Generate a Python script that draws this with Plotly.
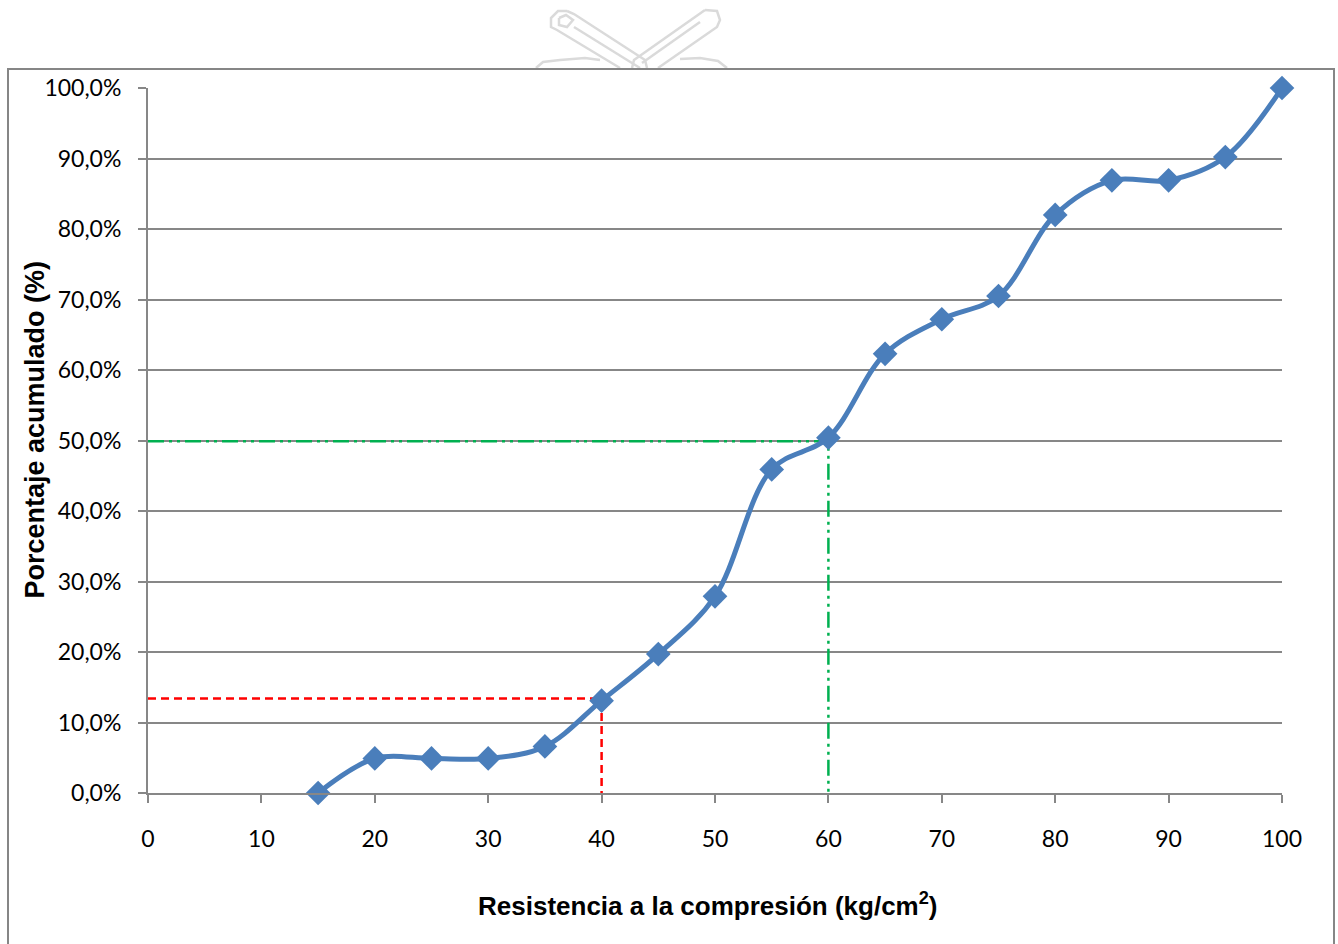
import plotly.graph_objects as go

# Cumulative distribution of compressive strength
resistencia = [15, 20, 25, 30, 35, 40, 45, 50, 55, 60, 65, 70, 75, 80, 85, 90, 95, 100]
porcentaje = [0.0, 4.9, 4.9, 4.9, 6.6, 13.1, 19.7, 27.9, 45.9, 50.4, 62.3, 67.2, 70.5,
              82.0, 86.9, 86.9, 90.2, 100.0]

# Reading guides: value at 40 kg/cm2 and the median (50 %)
guia_roja_x = [0, 40, 40]
guia_roja_y = [13.4, 13.4, 0]
guia_verde_x = [0, 60, 60]
guia_verde_y = [49.9, 49.9, 0]

x_ticks = [0, 10, 20, 30, 40, 50, 60, 70, 80, 90, 100]
y_ticks = [0, 10, 20, 30, 40, 50, 60, 70, 80, 90, 100]
y_ticktext = ["0,0%", "10,0%", "20,0%", "30,0%", "40,0%", "50,0%",
              "60,0%", "70,0%", "80,0%", "90,0%", "100,0%"]

W, H = 1338, 944
ML, MR, MT, MB = 148, 56, 88, 151
GRID = "#878787"
TICK_FONT = dict(family="Lato", size=23, color="#000000")
TITLE_FONT = dict(family="Liberation Sans", size=26, color="#000000")


def px_to_paper(px, py):
    """Convert page pixel coordinates to paper coordinates."""
    return (px - ML) / (W - ML - MR), (H - MB - py) / (H - MT - MB)


def path_from_px(points, closed=False):
    parts = []
    for i, (px, py) in enumerate(points):
        x, y = px_to_paper(px, py)
        parts.append(("M" if i == 0 else "L") + f"{x:.5f},{y:.5f}")
    return " ".join(parts) + (" Z" if closed else "")


# Faint page emblem above the chart frame (two crossed scrolls)
emblema = [
    [(567, 11), (558, 11), (551, 18), (551, 27), (557, 30), (620, 68)],
    [(647, 68), (645, 60), (574, 14), (567, 11)],
    [(559, 18), (566, 15), (573, 20), (567, 27), (559, 25), (559, 18)],
    [(574, 27), (640, 68)],
    [(705, 10), (717, 11), (720, 20), (717, 27), (658, 68)],
    [(632, 68), (634, 60), (705, 10)],
    [(700, 22), (642, 63)],
    [(536, 68), (543, 62), (560, 60), (585, 58), (600, 60)],
    [(680, 59), (700, 58), (718, 61), (727, 68)],
]

shapes = []
for pts in emblema:
    shapes.append(dict(
        type="path", xref="paper", yref="paper",
        path=path_from_px(pts), line=dict(color="#DADADA", width=2.5),
        fillcolor="rgba(0,0,0,0)", layer="below",
    ))

# Chart frame
fx0, fy1 = px_to_paper(8, 69)
fx1, fy0 = px_to_paper(1334, 960)
shapes.append(dict(
    type="rect", xref="paper", yref="paper",
    x0=fx0, x1=fx1, y0=fy0, y1=fy1,
    line=dict(color="#868686", width=2), fillcolor="white", layer="below",
))

fig = go.Figure()

fig.add_trace(go.Scatter(
    x=guia_roja_x, y=guia_roja_y, mode="lines",
    line=dict(color="#FF0000", width=2.5, dash="8px,5px"),
    hoverinfo="skip", showlegend=False,
))
fig.add_trace(go.Scatter(
    x=guia_verde_x, y=guia_verde_y, mode="lines",
    line=dict(color="#00B050", width=2.5, dash="16px,5px,3px,5px,3px,5px"),
    hoverinfo="skip", showlegend=False,
))
fig.add_trace(go.Scatter(
    x=resistencia, y=porcentaje, mode="lines+markers",
    line=dict(color="#4A7EBB", width=5, shape="spline", smoothing=1.0),
    marker=dict(symbol="diamond", size=19, color="#4A7EBB"),
    cliponaxis=False, showlegend=False,
))

fig.update_layout(
    width=W, height=H,
    margin=dict(l=ML, r=MR, t=MT, b=MB),
    paper_bgcolor="white", plot_bgcolor="rgba(0,0,0,0)",
    xaxis=dict(
        range=[0, 100], tickmode="array", tickvals=x_ticks,
        showgrid=False, zeroline=False,
        showline=True, linecolor=GRID, linewidth=2,
        ticks="outside", ticklen=8, tickwidth=2, tickcolor=GRID,
        tickfont=TICK_FONT, ticklabelstandoff=16,
    ),
    yaxis=dict(
        range=[0, 100], tickmode="array", tickvals=y_ticks, ticktext=y_ticktext,
        showgrid=True, gridcolor=GRID, gridwidth=2, zeroline=False,
        showline=True, linecolor=GRID, linewidth=2,
        ticks="outside", ticklen=8, tickwidth=2, tickcolor=GRID,
        tickfont=TICK_FONT, ticklabelstandoff=12,
    ),
    shapes=shapes,
    annotations=[
        dict(text="<b>Resistencia a la compresión (kg/cm<sup>2</sup>)</b>",
             xref="paper", yref="paper", x=0.4935, y=-0.158,
             showarrow=False, font=TITLE_FONT, xanchor="center", yanchor="middle"),
        dict(text="<b>Porcentaje acumulado (%)</b>",
             xref="paper", yref="paper", x=-0.1, y=0.515,
             showarrow=False, font=dict(family="Liberation Sans", size=27, color="#000000"),
             textangle=-90, xanchor="center", yanchor="middle"),
    ],
)

fig.write_html("out.html")
